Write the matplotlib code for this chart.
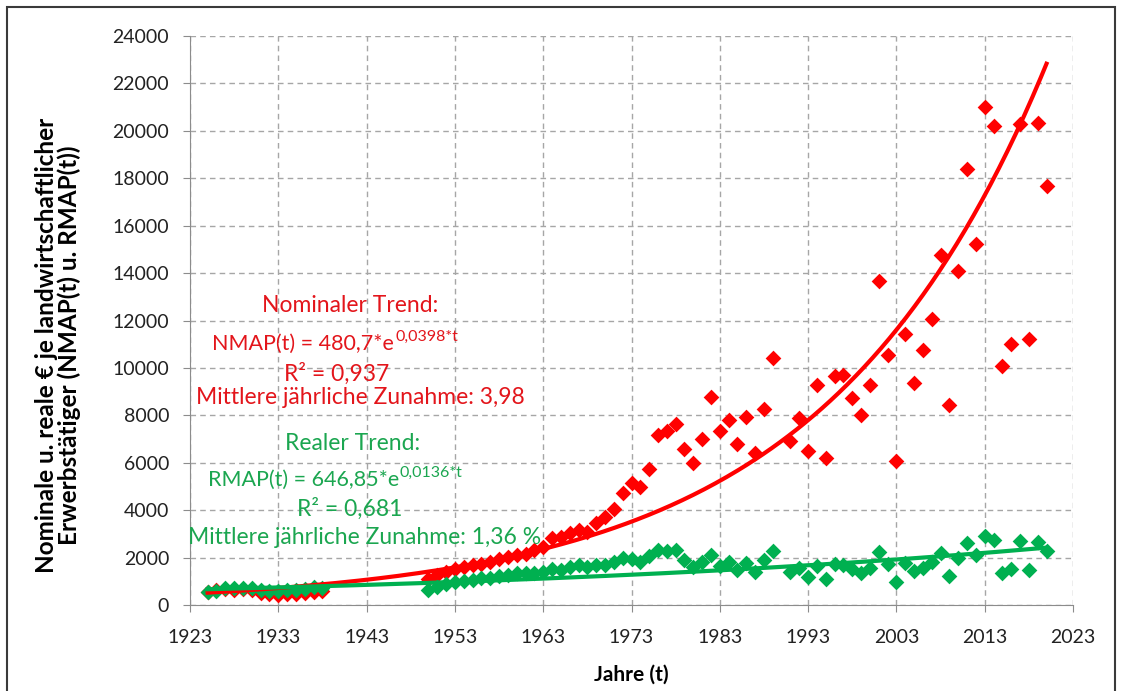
import matplotlib.pyplot as plt
import numpy as np
from matplotlib.patches import Rectangle

plt.rcParams["font.family"] = ["Lato", "DejaVu Sans"]

# nominal income per agricultural worker (red) and real income (green)
years_early = [1925, 1926, 1927, 1928, 1929, 1930, 1931, 1932, 1933, 1934, 1935, 1936, 1937, 1938]
nmap_early = [560, 620, 660, 650, 680, 620, 520, 450, 440, 460, 480, 500, 540, 600]
rmap_early = [560, 610, 720, 730, 720, 700, 640, 610, 610, 630, 650, 680, 760, 720]

years_late = [1950, 1951, 1952, 1953, 1954, 1955, 1956, 1957, 1958, 1959,
              1960, 1961, 1962, 1963, 1964, 1965, 1966, 1967, 1968, 1969,
              1970, 1971, 1972, 1973, 1974, 1975, 1976, 1977, 1978, 1979,
              1980, 1981, 1982, 1983, 1984, 1985, 1986, 1987, 1988, 1989,
              1991, 1992, 1993, 1994, 1995, 1996, 1997, 1998, 1999,
              2000, 2001, 2002, 2003, 2004, 2005, 2006, 2007, 2008, 2009,
              2010, 2011, 2012, 2013, 2014, 2015, 2016, 2017, 2018, 2019, 2020]
nmap_late = [1100, 1250, 1400, 1500, 1600, 1680, 1750, 1820, 1960, 2030,
             2100, 2150, 2320, 2460, 2810, 2880, 3020, 3160, 3090, 3440,
             3720, 4050, 4720, 5140, 4980, 5730, 7150, 7320, 7640, 6590,
             6000, 7010, 8760, 7330, 7810, 6770, 7950, 6410, 8280, 10420,
             6920, 7890, 6490, 9280, 6200, 9640, 9710, 8730, 8010,
             9300, 13650, 10560, 6070, 11440, 9370, 10740, 12050, 14770, 8450,
             14070, 18410, 15220, 21010, 20200, 10090, 11020, 20270, 11220, 20350, 17670]
rmap_late = [630, 770, 880, 980, 1010, 1050, 1120, 1150, 1220, 1260,
             1330, 1330, 1360, 1400, 1500, 1470, 1610, 1680, 1590, 1700,
             1700, 1800, 1980, 1950, 1820, 2050, 2320, 2260, 2320, 1900,
             1590, 1830, 2110, 1650, 1830, 1480, 1790, 1410, 1900, 2290,
             1400, 1550, 1200, 1640, 1110, 1710, 1670, 1500, 1360,
             1570, 2230, 1710, 970, 1760, 1430, 1570, 1800, 2180, 1230,
             2000, 2600, 2100, 2910, 2740, 1370, 1510, 2700, 1480, 2660, 2280]

# exponential trends as stated on the chart, t = year - 1923
nom_a, nom_b = 480.7, 0.0398
real_a, real_b = 646.85, 0.0136
t0 = 1923

red = "#FF0000"
green = "#00B050"
red_txt = "#E3151B"
green_txt = "#1BA650"
grid_col = "#A6A6A6"

W, H = 1121, 691
fig = plt.figure(figsize=(W / 100, H / 100), dpi=100)
ax = fig.add_axes([190 / W, 1 - 605 / H, (1073 - 190) / W, (605 - 36) / H])

years = np.array(years_early + years_late)
nmap = np.array(nmap_early + nmap_late)
rmap = np.array(rmap_early + rmap_late)

ax.scatter(years, nmap, marker="D", s=64, color=red, linewidths=0, zorder=3)
ax.scatter(years, rmap, marker="D", s=64, color=green, linewidths=0, zorder=4)

tt = np.linspace(years.min(), years.max(), 300)
ax.plot(tt, nom_a * np.exp(nom_b * (tt - t0)), color=red, lw=3, zorder=5)
ax.plot(tt, real_a * np.exp(real_b * (tt - t0)), color=green, lw=3, zorder=6)

ax.set_xlim(1923, 2023)
ax.set_ylim(0, 24000)
ax.set_xticks(np.arange(1923, 2024, 10))
ax.set_yticks(np.arange(0, 24001, 2000))
ax.grid(True, linestyle=(0, (4, 3)), color=grid_col, lw=1)
ax.set_axisbelow(True)
for side in ["top", "right"]:
    ax.spines[side].set_visible(False)
for side in ["left", "bottom"]:
    ax.spines[side].set_color("#8C8C8C")
ax.tick_params(colors="#8C8C8C", labelcolor="#222222", labelsize=14, length=5)
ax.tick_params(axis="x", pad=12)
ax.tick_params(axis="y", pad=10)
ax.set_xlabel("Jahre (t)", fontsize=15, fontweight="bold", labelpad=14)

fig.text(58 / W, 1 - 345 / H,
         "Nominale u. reale € je landwirtschaftlicher\nErwerbstätiger (NMAP(t) u. RMAP(t))",
         rotation=90, ha="center", va="center", fontsize=17.5, fontweight="bold",
         multialignment="center", linespacing=1.0)


def ftext(x, y, s, **kw):
    fig.text(x / W, 1 - y / H, s, **kw)


big = 16.5
ftext(350, 306, "Nominaler Trend:", color=red_txt, fontsize=big, ha="center", va="center")
ftext(394, 344, "NMAP(t) = 480,7*e", color=red_txt, fontsize=15.5, ha="right", va="center")
ftext(395, 337, "0,0398*t", color=red_txt, fontsize=11.5, ha="left", va="center")
ftext(337, 374, "R² = 0,937", color=red_txt, fontsize=big, ha="center", va="center")
ftext(360, 398, "Mittlere jährliche Zunahme: 3,98", color=red_txt, fontsize=big, ha="center", va="center")

ftext(353, 443, "Realer Trend:", color=green_txt, fontsize=big, ha="center", va="center")
ftext(399, 480, "RMAP(t) = 646,85*e", color=green_txt, fontsize=15.5, ha="right", va="center")
ftext(400, 473, "0,0136*t", color=green_txt, fontsize=11.5, ha="left", va="center")
ftext(350, 509, "R² = 0,681", color=green_txt, fontsize=big, ha="center", va="center")
ftext(365, 537, "Mittlere jährliche Zunahme: 1,36 %", color=green_txt, fontsize=big, ha="center", va="center")

fig.patches.append(Rectangle((7 / W, -0.05), (1115 - 7) / W, 1.05 - 7 / H,
                             transform=fig.transFigure, fill=False,
                             edgecolor="#3A3A3A", lw=1.5))

fig.savefig("out.png", dpi=100)
